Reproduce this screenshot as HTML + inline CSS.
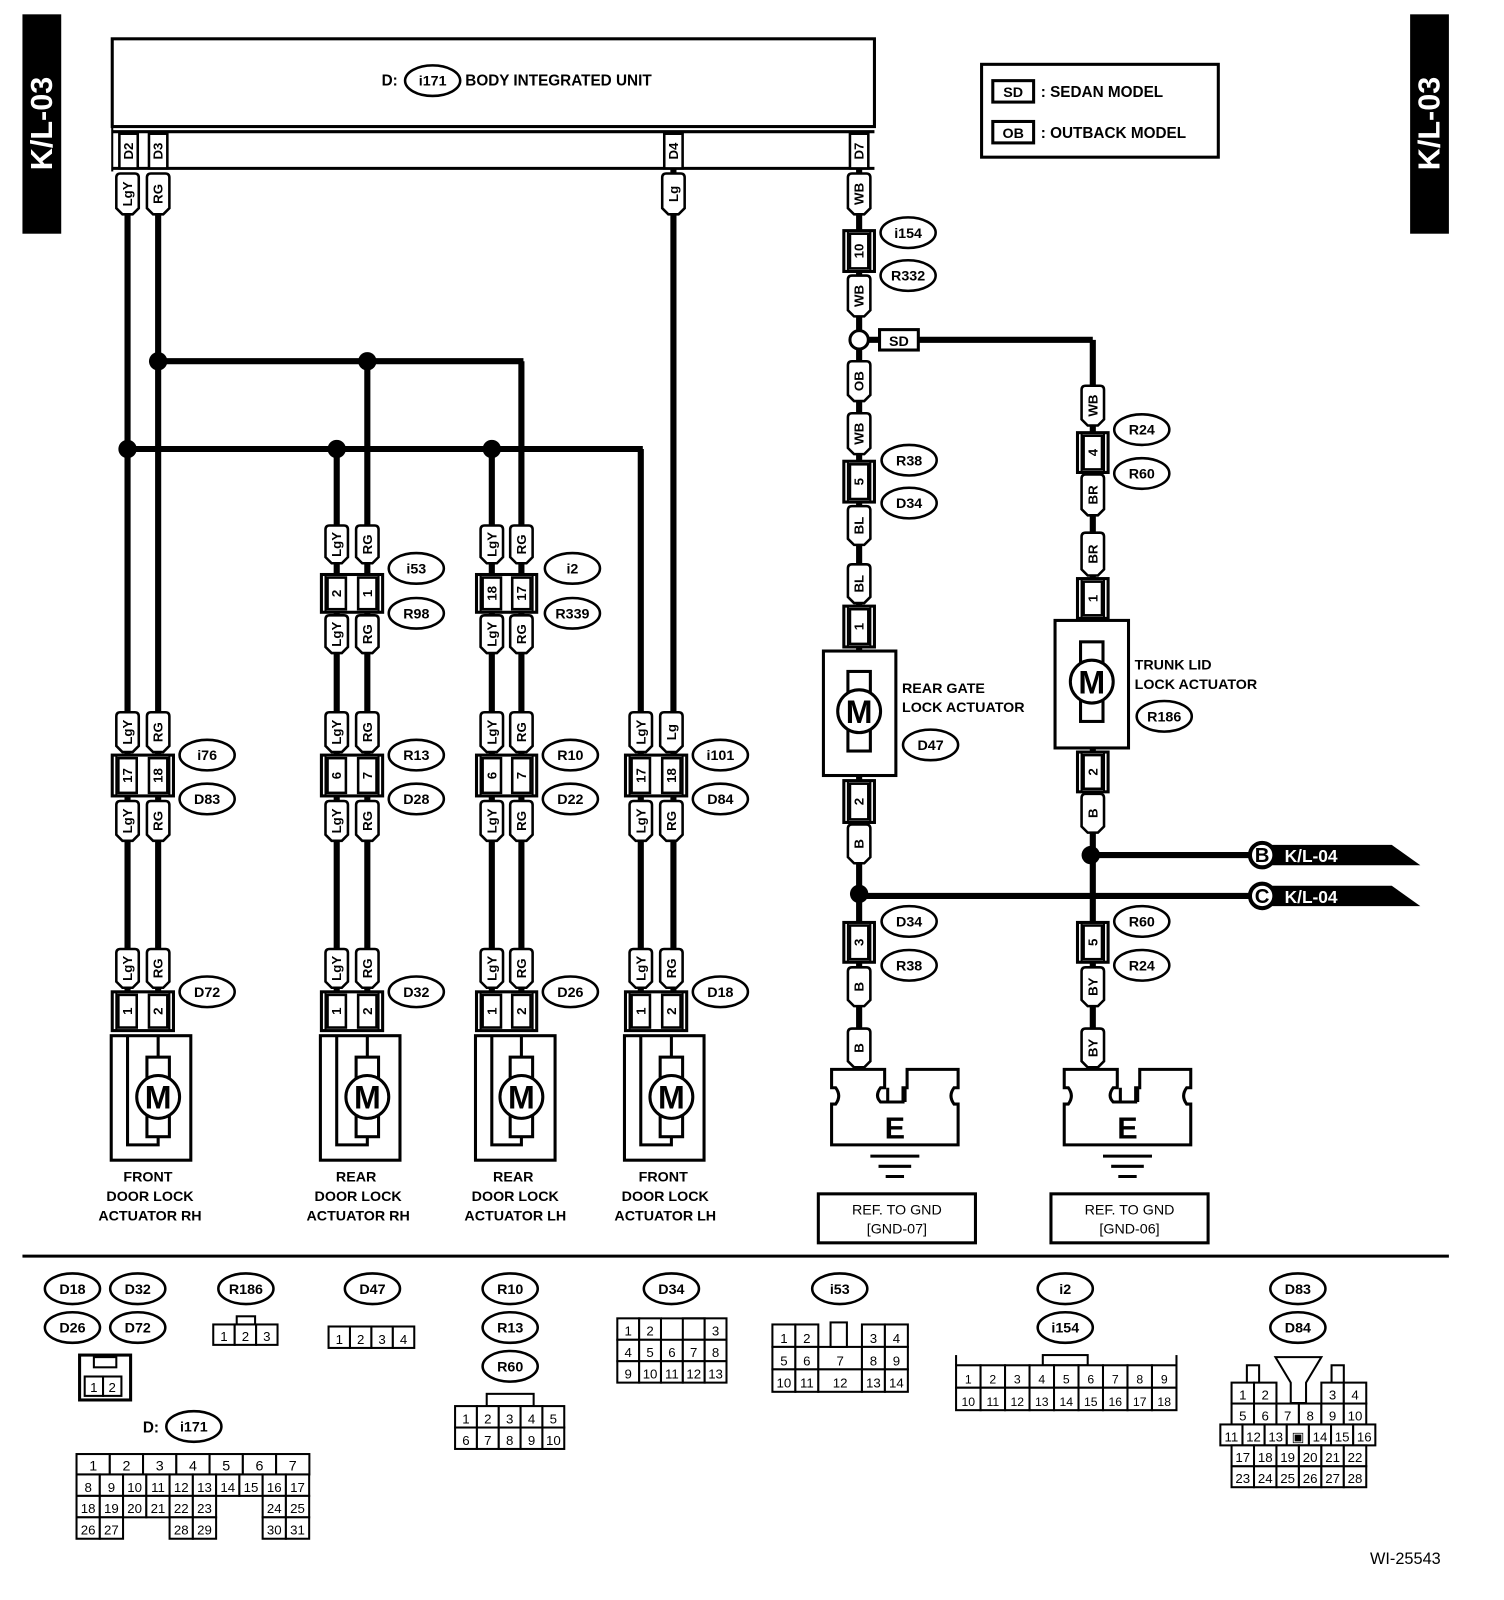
<!DOCTYPE html>
<html><head><meta charset="utf-8"><style>
html,body{margin:0;padding:0;background:#fff;}
svg{display:block;font-family:"Liberation Sans",Arial,sans-serif;}
</style></head><body>
<svg id="s" xmlns="http://www.w3.org/2000/svg" width="1504" height="1600" viewBox="0 0 1474 1568"></svg>
<script>
var o='';
function A(s){o+=s;}
function L(x1,y1,x2,y2,w){A(`<line x1="${x1}" y1="${y1}" x2="${x2}" y2="${y2}" stroke="#000" stroke-width="${w||6}"/>`);}
function P(d,w,f){A(`<path d="${d}" stroke="#000" stroke-width="${w||6}" fill="${f||'none'}"/>`);}
function T(x,y,t,sz,anc,col,wt){A(`<text x="${x}" y="${y}" font-size="${sz||14}" text-anchor="${anc||'start'}" fill="${col||'#000'}" font-weight="${wt||'bold'}">${t}</text>`);}
function RT(x,y,t,sz,col){A(`<text transform="translate(${x},${y}) rotate(-90)" font-size="${sz||13}" text-anchor="middle" dominant-baseline="central" fill="${col||'#000'}" font-weight="bold">${t}</text>`);}
function pill(x,y1,y2,t){A(`<path d="M${x-11} ${y1+4} Q${x-11} ${y1} ${x-7} ${y1} H${x+7} Q${x+11} ${y1} ${x+11} ${y1+4} V${y2-6} L${x+5} ${y2} H${x-5} L${x-11} ${y2-6} Z" fill="#fff" stroke="#000" stroke-width="2.5"/>`);RT(x,(y1+y2)/2,t,13);}
function pins(xs,y1,y2,ls){var a=Math.min.apply(0,xs)-15,b=Math.max.apply(0,xs)+15;
 A(`<rect x="${a}" y="${y1}" width="${b-a}" height="${y2-y1}" fill="#fff" stroke="#000" stroke-width="3"/>`);
 L(a+4,y1,a+4,y2,2);L(b-4,y1,b-4,y2,2);
 xs.forEach((x,i)=>{A(`<rect x="${x-9}" y="${y1+3}" width="18" height="${y2-y1-6}" fill="#fff" stroke="#000" stroke-width="2.5"/>`);RT(x,(y1+y2)/2,ls[i],13);});}
function tag(cx,cy,t){A(`<ellipse cx="${cx}" cy="${cy}" rx="27" ry="15" fill="#fff" stroke="#000" stroke-width="2.5"/>`);T(cx,cy+5,t,14,'middle');}
function dot(x,y){A(`<circle cx="${x}" cy="${y}" r="9" fill="#000"/>`);}
function motor(cx,cy,r){A(`<rect x="${cx-11}" y="${cy-r-18}" width="22" height="${2*r+36}" fill="#fff" stroke="#000" stroke-width="3"/><circle cx="${cx}" cy="${cy}" r="${r}" fill="#fff" stroke="#000" stroke-width="3"/>`);T(cx,cy+r*0.55,'M',r*1.5,'middle');}
function cells(x,y,cw,ch,rows,sz){rows.forEach((r,ri)=>{var cx=x;r.forEach(c=>{var w=cw,t=c;if(Array.isArray(c)){w=c[1]*cw;t=c[0];}
 if(t!==null){A(`<rect x="${cx}" y="${y+ri*ch}" width="${w}" height="${ch}" fill="#fff" stroke="#000" stroke-width="2"/>`);if(t!=='')T(cx+w/2,y+ri*ch+ch-4,t,sz||13,'middle','#000','normal');}cx+=w;});});}

A(`<rect x="22" y="14" width="38" height="215" fill="#000"/><rect x="1382" y="14" width="38" height="215" fill="#000"/>`);
RT(41,121,'K/L-03',30,'#fff');RT(1401,121,'K/L-03',30,'#fff');
A(`<rect x="110" y="38" width="747" height="86" fill="#fff" stroke="#000" stroke-width="3"/>`);
L(110,129,857,129,3);L(110,165,857,165,3);L(110,124,110,168,2);
T(374,84,'D:',15);tag(424,79,'i171');T(456,84,'BODY INTEGRATED UNIT',15);
[[126,'D2'],[155,'D3'],[660,'D4'],[842,'D7']].forEach(p=>{A(`<rect x="${p[0]-9}" y="131" width="18" height="34" fill="#fff" stroke="#000" stroke-width="2.5"/>`);RT(p[0],148,p[1],13);});
A(`<rect x="962" y="63" width="232" height="91" fill="#fff" stroke="#000" stroke-width="3"/>`);
A(`<rect x="973" y="79" width="40" height="21" fill="none" stroke="#000" stroke-width="3"/><rect x="973" y="119" width="40" height="21" fill="none" stroke="#000" stroke-width="3"/>`);
T(993,95,'SD',14,'middle');T(993,135,'OB',14,'middle');T(1020,95,': SEDAN MODEL',15);T(1020,135,': OUTBACK MODEL',15);

L(125,200,125,1000);L(155,200,155,1000);
L(155,354,513,354);L(511,354,511,1000);L(360,354,360,1000);
L(125,440,630,440);L(330,440,330,1000);L(482,440,482,1000);L(628,440,628,1000);
L(660,165,660,1000);
dot(155,354);dot(360,354);dot(125,440);dot(330,440);dot(482,440);
L(842,165,842,640);L(842,760,842,1050);L(850,333,1071,333);L(1071,333,1071,610);L(1071,733,1071,1050);
L(1069,838,1230,838);L(842,878,1230,878);dot(842,876);dot(1069,838);

var cols=[[125,155,'17','18','i76','D83','D72'],[330,360,'6','7','R13','D28','D32'],[482,511,'6','7','R10','D22','D26'],[628,658,'17','18','i101','D84','D18']];
pill(125,170,210,'LgY');pill(155,170,210,'RG');pill(660,170,210,'Lg');
pill(330,515,552,'LgY');pill(360,515,552,'RG');pins([330,360],563,600,['2','1']);pill(330,603,640,'LgY');pill(360,603,640,'RG');tag(408,557,'i53');tag(408,601,'R98');
pill(482,515,552,'LgY');pill(511,515,552,'RG');pins([482,511],563,600,['18','17']);pill(482,603,640,'LgY');pill(511,603,640,'RG');tag(561,557,'i2');tag(561,601,'R339');
cols.forEach((c,i)=>{var a=c[0],b=c[1];
 pill(a,698,737,'LgY');pill(b,698,737,i==3?'Lg':'RG');pins([a,b],740,780,[c[2],c[3]]);
 pill(a,785,824,'LgY');pill(b,785,824,'RG');tag(b+48,740,c[4]);tag(b+48,783,c[5]);
 pill(a,930,968,'LgY');pill(b,930,968,'RG');pins([a,b],972,1010,['1','2']);tag(b+48,972,c[6]);
 var x0=a-16;A(`<rect x="${x0}" y="1015" width="78" height="122" fill="#fff" stroke="#000" stroke-width="3"/>`);
 P(`M${a} 1015 V1122 H${b} V1105 M${b} 1015 V1040`,3);motor(b,1075,21);});
[['FRONT','DOOR LOCK','ACTUATOR RH',147],['REAR','DOOR LOCK','ACTUATOR RH',351],['REAR','DOOR LOCK','ACTUATOR LH',505],['FRONT','DOOR LOCK','ACTUATOR LH',652]].forEach(t=>{T(t[3]-2,1158,t[0],14,'middle');T(t[3],1177,t[1],14,'middle');T(t[3],1196,t[2],14,'middle');});

pill(842,170,210,'WB');pins([842],226,266,['10']);tag(890,228,'i154');tag(890,270,'R332');pill(842,270,310,'WB');
A(`<circle cx="842" cy="333" r="9" fill="#fff" stroke="#000" stroke-width="3"/>`);
A(`<rect x="862" y="323" width="38" height="20" fill="#fff" stroke="#000" stroke-width="3"/>`);T(881,339,'SD',14,'middle');
pill(842,354,393,'OB');pill(842,405,445,'WB');pins([842],452,492,['5']);tag(891,451,'R38');tag(891,493,'D34');
pill(842,496,534,'BL');pill(842,553,591,'BL');pins([842],594,634,['1']);
A(`<rect x="807" y="638" width="71" height="122" fill="#fff" stroke="#000" stroke-width="3"/>`);motor(842,697,21);
T(884,679,'REAR GATE',14);T(884,698,'LOCK ACTUATOR',14);tag(912,730,'D47');
pins([842],765,806,['2']);pill(842,808,846,'B');
pins([842],904,943,['3']);tag(891,903,'D34');tag(891,946,'R38');pill(842,948,986,'B');pill(842,1008,1046,'B');
pill(1071,378,417,'WB');pins([1071],424,463,['4']);tag(1119,421,'R24');tag(1119,464,'R60');pill(1071,465,505,'BR');pill(1071,522,564,'BR');pins([1071],567,606,['1']);
A(`<rect x="1034" y="608" width="72" height="125" fill="#fff" stroke="#000" stroke-width="3"/>`);motor(1070,668,21);
T(1112,656,'TRUNK LID',14);T(1112,675,'LOCK ACTUATOR',14);tag(1141,702,'R186');
pins([1071],737,776,['2']);pill(1071,778,816,'B');
pins([1071],904,943,['5']);tag(1119,903,'R60');tag(1119,946,'R24');pill(1071,948,986,'BY');pill(1071,1008,1046,'BY');
[[838,'B'],[878,'C']].forEach(a=>{var y=a[0];A(`<path d="M1237 ${y-10} H1364 L1392 ${y+10} H1237 Z" fill="#000"/><circle cx="1237" cy="${y}" r="12" fill="#fff" stroke="#000" stroke-width="4"/>`);T(1237,y+7,a[1],20,'middle');T(1259,y+7,'K/L-04',17,'start','#fff');});
function gnd(cx,label){var x=cx-28;
 A(`<path d="M${x} 1048 H${x+52} V1066 H${x+48} Q${x+42} 1074 ${x+48} 1080 H${x+70} V1066 H${x+74} V1048 H${x+124} V1066 H${x+120} Q${x+114} 1074 ${x+120} 1082 H${x+124} V1122 H${x} V1082 H${x+4} Q${x+10} 1074 ${x+4} 1066 H${x} Z" fill="#fff" stroke="#000" stroke-width="3"/>`);
 L(x+55,1066,x+55,1080,3);L(x+72,1066,x+72,1080,3);
 T(x+62,1116,'E',30,'middle');L(x+38,1133,x+86,1133,3);L(x+46,1143,x+78,1143,3);L(x+53,1153,x+71,1153,3);
 A(`<rect x="${x-13}" y="1170" width="154" height="48" fill="#fff" stroke="#000" stroke-width="3"/>`);T(x+64,1190,'REF. TO GND',14,'middle','#000','normal');T(x+64,1209,label,14,'middle','#000','normal');}
gnd(843,'[GND-07]');gnd(1071,'[GND-06]');

L(22,1231,1420,1231,3);
tag(71,1263,'D18');tag(135,1263,'D32');tag(71,1301,'D26');tag(135,1301,'D72');
A(`<rect x="78" y="1328" width="50" height="44" fill="#fff" stroke="#000" stroke-width="3"/><rect x="92" y="1330" width="22" height="10" fill="none" stroke="#000" stroke-width="2"/>`);cells(83,1349,18,19,[['1','2']]);
tag(241,1263,'R186');A(`<rect x="232" y="1290" width="18" height="8" fill="none" stroke="#000" stroke-width="2"/>`);cells(209,1298,21,20,[['1','2','3']]);
tag(365,1263,'D47');cells(322,1300,21,21,[['1','2','3','4']]);
tag(500,1263,'R10');tag(500,1301,'R13');tag(500,1339,'R60');A(`<rect x="477" y="1366" width="46" height="12" fill="none" stroke="#000" stroke-width="2"/>`);cells(446,1378,21.4,21,[['1','2','3','4','5'],['6','7','8','9','10']]);
tag(658,1263,'D34');cells(605,1292,21.4,21,[['1','2',null,'','3'],['4','5','6','7','8'],['9','10','11','12','13']]);L(648,1292,690,1292,2);
tag(823,1263,'i53');cells(757,1298,22.5,22,[['1','2',[null,1.9],'3','4'],['5','6',['7',1.9],'8','9'],['10','11',['12',1.9],'13','14']]);
A(`<rect x="814" y="1296" width="16" height="24" fill="#fff" stroke="#000" stroke-width="2"/>`);
tag(1044,1263,'i2');tag(1044,1301,'i154');A(`<rect x="1022" y="1328" width="44" height="10" fill="none" stroke="#000" stroke-width="2"/>`);L(937,1328,937,1338,2);L(1153,1328,1153,1338,2);cells(937,1338,24,22,[['1','2','3','4','5','6','7','8','9'],['10','11','12','13','14','15','16','17','18']],12);
tag(1272,1263,'D83');tag(1272,1301,'D84');
A(`<path d="M1250 1330 H1295 L1280 1355 V1375 H1265 V1355 Z" fill="#fff" stroke="#000" stroke-width="2"/><rect x="1222" y="1338" width="12" height="18" fill="none" stroke="#000" stroke-width="2"/><rect x="1305" y="1338" width="12" height="18" fill="none" stroke="#000" stroke-width="2"/>`);
cells(1207,1355,22,20.5,[['1','2',null,null,'3','4'],['5','6','7','8','9','10']],13);
cells(1196,1396,21.7,20.5,[['11','12','13','▣','14','15','16']],13);
cells(1207,1416.5,22,20.5,[['17','18','19','20','21','22'],['23','24','25','26','27','28']],13);
T(140,1404,'D:',15);tag(190,1398,'i171');
cells(75,1425,32.6,20,[['1','2','3','4','5','6','7']],14);
cells(75,1445,22.8,21,[['8','9','10','11','12','13','14','15','16','17'],['18','19','20','21','22','23',null,null,'24','25'],['26','27',null,null,'28','29',null,null,'30','31']],13);
T(1412,1533,'WI-25543',16,'end','#000','normal');
document.getElementById('s').innerHTML=o;
</script>
</body></html>
